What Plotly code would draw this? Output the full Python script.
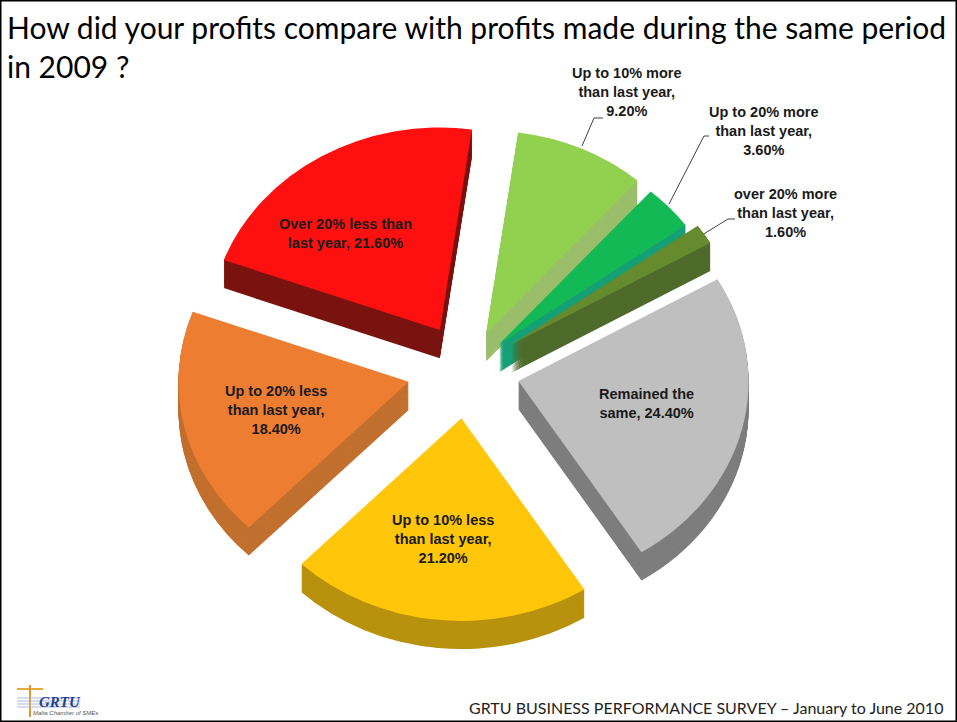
import plotly.graph_objects as go

categories = ["Up to 10% more than last year", "Up to 20% more than last year",
              "over 20% more than last year", "Remained the same",
              "Up to 10% less than last year", "Up to 20% less than last year",
              "Over 20% less than last year"]
values = [9.2, 3.6, 1.6, 24.4, 21.2, 18.4, 21.6]
top_colors = ["#92D050", "#12B955", "#668A2E", "#BFBFBF", "#FFC60A", "#ED7D31", "#FF1010"]
side_colors = ["#9BBE6B", "#17A077", "#4F6B2C", "#7E7E7E", "#B8920E", "#C2702F", "#7A1410"]
pulls = [0.20, 0.19, 0.23, 0.23, 0.24, 0.26, 0.23]
labels = [
    ("Up to 10% more<br>than last year,<br>9.20%", 627, 92),
    ("Up to 20% more<br>than last year,<br>3.60%", 764, 131),
    ("over 20% more<br>than last year,<br>1.60%", 785, 213),
    ("Remained the<br>same, 24.40%", 646, 403),
    ("Up to 10% less<br>than last year,<br>21.20%", 443, 539),
    ("Up to 20% less<br>than last year,<br>18.40%", 276, 410),
    ("Over 20% less than<br>last year, 21.60%", 345, 233),
]
leaders = [
    ([582, 594, 603], [146, 118, 118]),
    ([669, 704, 709], [204, 136, 136]),
    ([702, 728, 735], [235, 219, 219]),
]

W, H = 957, 722
CX, CY, R = 467, 370, 290
S = 0.88
DEPTH = 32
ROTATION = 8

def dom(dy):
    cy = CY + dy
    return dict(x=[(CX - R) / W, (CX + R) / W], y=[1 - (cy + R) / H, 1 - (cy - R) / H])

fig = go.Figure()
for dy in range(DEPTH, 0, -1):
    fig.add_trace(go.Pie(labels=categories, values=values, sort=False, direction="clockwise",
                         rotation=ROTATION, pull=pulls, domain=dom(dy), textinfo="none",
                         hoverinfo="skip", showlegend=False,
                         marker=dict(colors=side_colors, line=dict(width=0))))
fig.add_trace(go.Pie(labels=categories, values=values, sort=False, direction="clockwise",
                     rotation=ROTATION, pull=pulls, domain=dom(0), textinfo="none",
                     showlegend=False, marker=dict(colors=top_colors, line=dict(width=0))))

for text, x, y in labels:
    fig.add_annotation(text="<b>" + text.replace("<br>", "</b><br><b>") + "</b>", x=x / W, y=1 - y / H,
                       xref="paper", yref="paper", xanchor="center", yanchor="middle", showarrow=False,
                       font=dict(family="Liberation Sans", size=14.5, color="#1A1A1A"), align="center")
for lx, ly in leaders:
    fig.add_trace(go.Scatter(x=lx, y=ly, mode="lines", showlegend=False,
                             hoverinfo="skip", line=dict(color="#404040", width=1)))

fig.add_annotation(text="How did your profits compare with profits made during the same period<br>in 2009 ?",
                   x=5 / W, y=1 - 7 / H, xref="paper", yref="paper", xanchor="left", yanchor="top",
                   showarrow=False, align="left", font=dict(family="Lato", size=30, color="#000000"))
fig.add_annotation(text="GRTU BUSINESS PERFORMANCE SURVEY – January to June 2010",
                   x=945 / W, y=1 - 707 / H, xref="paper", yref="paper", xanchor="right", yanchor="middle",
                   showarrow=False, font=dict(family="Lato", size=16, color="#222222"))
fig.add_annotation(text="<b><i>GRTU</i></b>", x=60 / W, y=1 - 702 / H, xref="paper", yref="paper",
                   xanchor="center", yanchor="middle", showarrow=False,
                   font=dict(family="Liberation Serif", size=15, color="#27408B"))
fig.add_annotation(text="<i>Malta Chamber of SMEs</i>", x=65 / W, y=1 - 713 / H, xref="paper", yref="paper",
                   xanchor="center", yanchor="middle", showarrow=False,
                   font=dict(family="Liberation Sans", size=6, color="#555555"))

def seg(x0, y0, x1, y1, color, width):
    return dict(type="line", xref="paper", yref="paper", x0=x0 / W, x1=x1 / W,
                y0=1 - y0 / H, y1=1 - y1 / H, line=dict(color=color, width=width))

logo = [seg(17, 689, 43, 689, "#E8A93A", 2), seg(30, 685, 30, 717, "#D89A30", 2)]
for yy in (698, 701, 704, 707):
    logo.append(seg(17, yy, 80, yy, "#A9BAD3", 1))

fig.update_layout(
    width=W, height=H, margin=dict(l=0, r=0, t=0, b=0), paper_bgcolor="white", plot_bgcolor="rgba(0,0,0,0)",
    xaxis=dict(range=[0, W], visible=False, fixedrange=True, domain=[0, 1]),
    yaxis=dict(range=[H, 0], visible=False, fixedrange=True, domain=[0, 1]),
    shapes=[dict(type="rect", xref="paper", yref="paper", x0=0, x1=1, y0=0, y1=1,
                 line=dict(color="black", width=3), fillcolor="rgba(0,0,0,0)")] + logo,
)
post = (
    "document.body.style.margin='0';"
    f"document.querySelectorAll('.pielayer').forEach(function(g){{"
    f"g.setAttribute('transform','translate(0,{CY * (1 - S)}) scale(1,{S})');}});"
)
fig.write_html("out.html", post_script=post, config=dict(displayModeBar=False))
